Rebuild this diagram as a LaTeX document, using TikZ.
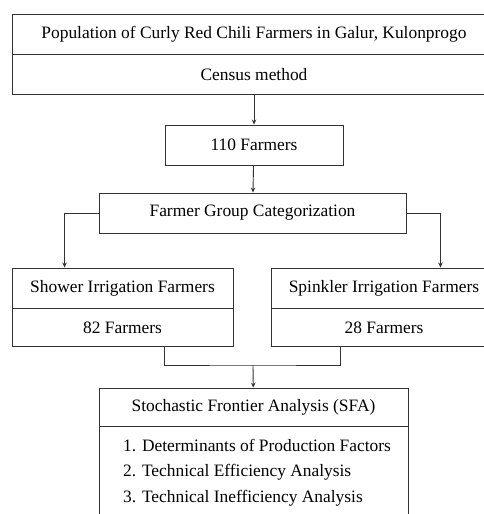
\documentclass[tikz,border=0pt]{standalone}
\usepackage{fontspec}
\setmainfont{Liberation Serif}
\usetikzlibrary{arrows.meta,positioning}

\tikzset{
  box/.style={draw=black!80, line width=0.9pt, fill=white, inner sep=0pt,
    font=\fontsize{17.4}{20}\selectfont},
  link/.style={draw=black!80, line width=0.9pt},
  arr/.style={link, -{Stealth[length=5pt,width=4.5pt]}}
}

\begin{document}
\begin{tikzpicture}[x=1pt,y=-1pt]
        \useasboundingbox (0,0) rectangle (484,514);
        % population and method
        \node[box, minimum width=484, minimum height=40] (pop) at (254,34) {Population of Curly Red Chili Farmers in Galur, Kulonprogo};
        \node[box, minimum width=484, minimum height=40, below=0pt of pop] (census) {Census method};
        % sample
        \node[box, minimum width=178, minimum height=40] (total) at (254,145) {110 Farmers};
        \node[box, minimum width=307, minimum height=40] (group) at (252.5,213) {Farmer Group Categorization};
        % groups
        \node[box, minimum width=221, minimum height=40] (shower) at (122.5,288) {Shower Irrigation Farmers};
        \node[box, minimum width=221, minimum height=38, below=0pt of shower] (showern) {82 Farmers};
        \node[box, minimum width=226, minimum height=40] (spinkler) at (384,288) {Spinkler Irrigation Farmers};
        \node[box, minimum width=226, minimum height=38, below=0pt of spinkler] (spinklern) {28 Farmers};
        % analysis
        \node[box, minimum width=309, minimum height=38] (sfa) at (253.5,407) {Stochastic Frontier Analysis (SFA)};
        \node[box, minimum width=309, minimum height=100, below=0pt of sfa] (steps) {};
        \node[font=\fontsize{17.4}{25.5}\selectfont, align=left, anchor=north west, inner sep=0pt] (list) at (123,439) {1. Determinants of Production Factors\\2. Technical Efficiency Analysis\\3. Technical Inefficiency Analysis};
        \coordinate (merge) at (253,365);
        \draw[arr] (census) -- (total);
        \draw[arr] (total) -- (group);
        \draw[arr] (group.west) -| ([xshift=53]shower.north west);
        \draw[arr] (group.east) -| ([xshift=-57]spinkler.north east);
        \draw[link] ([xshift=153]showern.south west) |- (merge) -| ([xshift=70]spinklern.south west);
        \draw[arr] (merge) -- (sfa);
    \end{tikzpicture}
\end{document}
